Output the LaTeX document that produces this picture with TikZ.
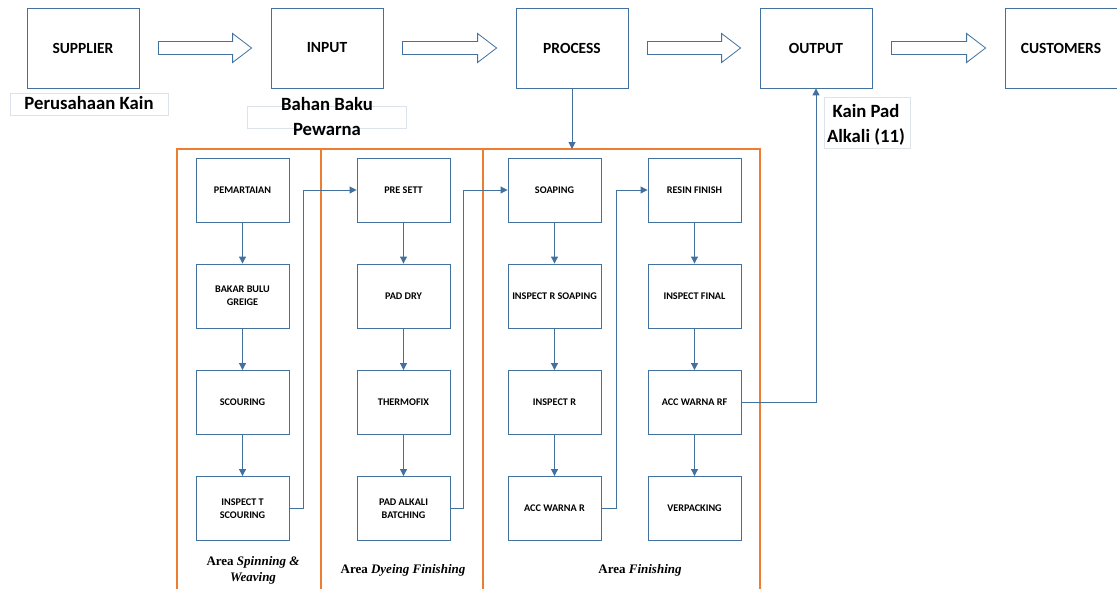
\documentclass[tikz,border=0pt]{standalone}
\usepackage{fontspec}
\setmainfont{Carlito}
\newfontfamily\tnr{Liberation Serif}
\usetikzlibrary{arrows.meta,calc}
\definecolor{boxblue}{HTML}{41719C}
\definecolor{connblue}{HTML}{41719C}
\definecolor{frameorange}{HTML}{ED7D31}
\definecolor{lblgray}{HTML}{DCE3EA}
\tikzset{
  topbox/.style={draw=boxblue, line width=0.8pt, minimum width=112pt, minimum height=80pt, inner sep=0pt,
    font=\bfseries\fontsize{15.5}{17}\selectfont},
  stepbox/.style={draw=boxblue, line width=0.9pt, minimum width=93pt, minimum height=64pt, inner sep=0pt,
    align=center, font=\bfseries\fontsize{10.2}{13}\selectfont},
  conn/.style={draw=connblue, line width=1pt, -{Triangle[length=7pt,width=7pt]}},
  blockarrow/.style={draw=boxblue, line width=0.8pt, fill=white},
  lblbox/.style={draw=lblgray, line width=0.6pt},
  lbltext/.style={font=\bfseries\fontsize{18.7}{25}\selectfont, align=center, inner sep=0pt},
  arealbl/.style={font=\tnr\bfseries\fontsize{13}{16}\selectfont, align=center, inner sep=0pt},
  orangeframe/.style={draw=frameorange, line width=1.2pt}
}
\begin{document}
\begin{tikzpicture}[x=1pt,y=-1pt]
\useasboundingbox (0,0) rectangle (1117,589);
% top row
\node[topbox] (sup) at (83,48) {SUPPLIER};
\node[topbox] (inp) at (327,48) {INPUT};
\node[topbox] (proc) at (572,48) {PROCESS};
\node[topbox] (outp) at (816,48) {OUTPUT};
\node[topbox] (cust) at (1061,48) {CUSTOMERS};
% block arrows
\foreach \a/\b in {sup/inp, inp/proc, proc/outp, outp/cust}{
  \path (\a.east) ++(19,0) coordinate (s) (\b.west) ++(-19,0) coordinate (e);
  \draw[blockarrow] ($(s)+(0,-6.5)$) -- ($(e)+(-19,-6.5)$) -- ($(e)+(-19,-14.5)$) -- (e)
     -- ($(e)+(-19,14.5)$) -- ($(e)+(-19,6.5)$) -- ($(s)+(0,6.5)$) -- cycle;
}
% labels
\draw[lblbox] (10,93) rectangle (168,115);
\node[lbltext] (lsup) at (89,103) {Perusahaan Kain};
\draw[lblbox] (247,106) rectangle (406,128);
\node[lbltext] (linp) at (327,117) {Bahan Baku\\Pewarna};
\draw[lblbox] (824,97) rectangle (910,148);
\node[lbltext] (lout) at (866,125) {Kain Pad\\Alkali (11)};
% orange frame
\draw[orangeframe] (177,600) -- (177,149) -- (760,149) -- (760,600);
\draw[orangeframe] (321,149) -- (321,600);
\draw[orangeframe] (483,149) -- (483,600);
\coordinate (ftop) at (572,149);
% column 1
\node[stepbox] (pem) at (242.5,190) {PEMARTAIAN};
\node[stepbox] (bak) at (242.5,296) {BAKAR BULU\\GREIGE};
\node[stepbox] (sco) at (242.5,402.5) {SCOURING};
\node[stepbox] (ins) at (242.5,508.5) {INSPECT T\\SCOURING};
% column 2
\node[stepbox] (pre) at (403.5,190) {PRE SETT};
\node[stepbox] (pad) at (403.5,296) {PAD DRY};
\node[stepbox] (the) at (403.5,402.5) {THERMOFIX};
\node[stepbox] (pab) at (403.5,508.5) {PAD ALKALI\\BATCHING};
% column 3
\node[stepbox] (soa) at (554.5,190) {SOAPING};
\node[stepbox] (irs) at (554.5,296) {INSPECT R SOAPING};
\node[stepbox] (irr) at (554.5,402.5) {INSPECT R};
\node[stepbox] (acr) at (554.5,508.5) {ACC WARNA R};
% column 4
\node[stepbox] (res) at (694.5,190) {RESIN FINISH};
\node[stepbox] (inf) at (694.5,296) {INSPECT FINAL};
\node[stepbox] (arf) at (694.5,402.5) {ACC WARNA RF};
\node[stepbox] (ver) at (694.5,508.5) {VERPACKING};
% vertical connectors
\draw[conn] (pem) -- (bak);
\draw[conn] (bak) -- (sco);
\draw[conn] (sco) -- (ins);
\draw[conn] (pre) -- (pad);
\draw[conn] (pad) -- (the);
\draw[conn] (the) -- (pab);
\draw[conn] (soa) -- (irs);
\draw[conn] (irs) -- (irr);
\draw[conn] (irr) -- (acr);
\draw[conn] (res) -- (inf);
\draw[conn] (inf) -- (arf);
\draw[conn] (arf) -- (ver);
% loop-back connectors
\draw[conn] (ins.east) -- ++(14,0) |- (pre.west);
\draw[conn] (pab.east) -- ++(13.5,0) |- (soa.west);
\draw[conn] (acr.east) -- ++(15,0) |- (res.west);
\draw[conn] (arf.east) -| (outp.south);
\draw[conn] (proc.south) -- (ftop);
% area labels
\node[arealbl] (a1) at (253,570) {Area \textit{Spinning \&}\\\textit{Weaving}};
\node[arealbl] (a2) at (403,570) {Area \textit{Dyeing Finishing}};
\node[arealbl] (a3) at (640,570) {Area \textit{Finishing}};
\end{tikzpicture}
\end{document}
